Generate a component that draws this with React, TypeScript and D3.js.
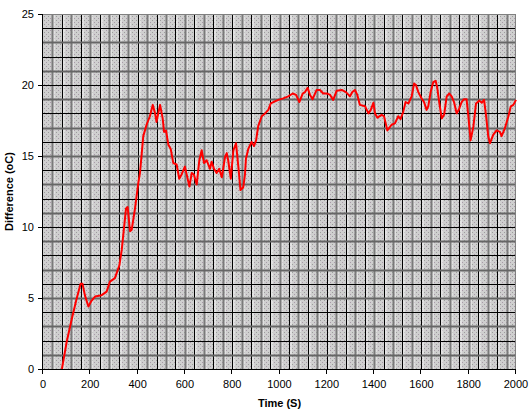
import { useMemo } from 'react';
import * as d3 from 'd3';

const time = [
    80, 100, 120, 140, 159, 167, 177, 192, 205, 220, 248, 269, 283, 304, 323, 333, 351, 358, 368, 375, 389, 403, 410,
    424, 438, 452, 464, 474, 480, 495, 506, 512, 520, 530, 540, 551, 565, 576, 586, 600, 619, 629, 638, 650, 661, 671,
    681, 692, 706, 713, 723, 734, 745, 756, 770, 777, 783, 794, 805, 816, 826, 835, 847, 854, 858, 868, 882, 892, 901,
    910, 925, 939, 953, 963, 974, 995, 1016, 1037, 1056, 1070, 1084, 1098, 1108, 1119, 1129, 1140, 1157, 1171, 1185,
    1202, 1214, 1227, 1242, 1263, 1281, 1298, 1308, 1319, 1329, 1340, 1362, 1376, 1386, 1397, 1404, 1414, 1432, 1442,
    1456, 1474, 1488, 1502, 1512, 1523, 1533, 1545, 1559, 1569, 1577, 1587, 1601, 1611, 1622, 1629, 1639, 1650, 1660,
    1667, 1676, 1686, 1696, 1707, 1718, 1728, 1738, 1749, 1759, 1770, 1780, 1791, 1798, 1808, 1820, 1831, 1845, 1855,
    1865, 1873, 1883, 1890, 1904, 1918, 1932, 1939, 1953, 1968, 1978, 1989, 2000,
];

const difference = [
    0, 1.9, 3.4, 4.8, 6.0, 6.0, 5.2, 4.4, 4.8, 5.1, 5.2, 5.45, 6.15, 6.4, 7.3, 8.4, 11.3, 11.4, 9.7, 9.8, 11.3, 13.1,
    13.8, 16.4, 17.2, 17.8, 18.6, 18.0, 17.4, 18.6, 17.65, 16.7, 16.8, 15.8, 15.5, 14.5, 14.4, 13.4, 13.7, 14.25, 12.85,
    13.8, 13.7, 13.0, 14.7, 15.4, 14.5, 14.7, 14.1, 14.6, 14.1, 13.8, 14.1, 13.5, 14.95, 15.2, 14.7, 13.4, 15.4, 15.9,
    14.25, 12.6, 12.8, 13.7, 14.8, 15.5, 16.0, 15.7, 16.1, 17.1, 17.8, 18.0, 18.25, 18.7, 18.8, 18.95, 19.06, 19.2, 19.4,
    19.3, 18.8, 19.4, 19.5, 19.8, 19.3, 19.0, 19.65, 19.65, 19.4, 19.4, 19.3, 18.95, 19.6, 19.65, 19.5, 19.2, 19.5,
    19.65, 19.3, 18.6, 18.5, 18.0, 18.25, 18.75, 18.0, 17.7, 17.9, 17.8, 16.8, 17.2, 17.3, 17.8, 17.6, 18.1, 18.8, 18.7,
    19.2, 20.1, 20.0, 19.5, 19.05, 18.8, 18.25, 18.5, 19.5, 20.2, 20.3, 19.8, 18.7, 17.65, 17.9, 19.2, 19.4, 19.2, 18.8,
    18.0, 18.3, 18.8, 19.0, 19.0, 17.9, 16.1, 17.1, 18.7, 18.9, 18.75, 18.95, 17.9, 16.35, 15.9, 16.5, 16.8, 16.7, 16.4,
    16.95, 17.8, 18.5, 18.6, 18.95,
];

const xTicks = [0, 200, 400, 600, 800, 1000, 1200, 1400, 1600, 1800, 2000];
const yTicks = [0, 5, 10, 15, 20, 25];

const WIDTH = 529;
const HEIGHT = 413;
const margin = { top: 14, right: 13, bottom: 44, left: 43 };
const FONT = '"Liberation Sans", Arial, sans-serif';

export default function App() {
    const x = useMemo(() => d3.scaleLinear().domain([0, 2000]).range([margin.left, WIDTH - margin.right]), []);
    const y = useMemo(() => d3.scaleLinear().domain([0, 25]).range([HEIGHT - margin.bottom, margin.top]), []);

    const linePath = useMemo(() => {
        const points = time.map((t, index) => [t, difference[index]] as [number, number]);
        return (
            d3
                .line<[number, number]>()
                .x((d) => x(d[0]))
                .y((d) => y(d[1]))(points) ?? ''
        );
    }, [x, y]);

    const verticalGrid = d3.range(40, 2000, 40);
    const horizontalGrid = d3.range(1, 25, 1);

    const [x0, x1] = x.range();
    const [y0, y1] = y.range();

    return (
        <div style={{ position: 'absolute', left: 0, top: 0 }}>
            <svg width={WIDTH} height={HEIGHT} style={{ display: 'block', background: '#ffffff' }}>
                <defs>
                    <pattern id="dots" width={4} height={4} patternUnits="userSpaceOnUse">
                        <rect width={4} height={4} fill="#cfcfcf" />
                        <rect x={0} y={0} width={1} height={1} fill="#9c9c9c" />
                        <rect x={2} y={2} width={1} height={1} fill="#a89aa8" />
                    </pattern>
                </defs>

                <rect x={x0} y={y1} width={x1 - x0} height={y0 - y1} fill="url(#dots)" />

                {/* vertical grid lines: alternating gray bands and black lines, with light edges */}
                {verticalGrid.map((t) => {
                    const px = Math.round(x(t)) + 0.5;
                    const dark = t % 80 === 0;
                    return (
                        <g key={`v${t}`}>
                            <line x1={px + 1.5} x2={px + 1.5} y1={y1} y2={y0} stroke="#f4f4f4" strokeWidth={1} />
                            <line
                                x1={px}
                                x2={px}
                                y1={y1}
                                y2={y0}
                                stroke={dark ? '#000000' : '#7a7a7a'}
                                strokeWidth={dark ? 1 : 2}
                            />
                        </g>
                    );
                })}

                {horizontalGrid.map((v) => {
                    const py = Math.round(y(v)) + 0.5;
                    const dark = v % 2 === 0;
                    return (
                        <line
                            key={`h${v}`}
                            x1={x0}
                            x2={x1}
                            y1={py}
                            y2={py}
                            stroke={dark ? '#000000' : '#666666'}
                            strokeWidth={dark ? 1 : 2}
                        />
                    );
                })}

                {/* plot border */}
                <line x1={x0} x2={x1} y1={y1 + 0.5} y2={y1 + 0.5} stroke="#808080" strokeWidth={1} />
                <line x1={x1 - 0.5} x2={x1 - 0.5} y1={y1} y2={y0} stroke="#808080" strokeWidth={1} />

                <path d={linePath} fill="none" stroke="#ff0000" strokeWidth={2} strokeLinejoin="round" />

                {/* axes */}
                <line x1={x0 - 0.5} x2={x0 - 0.5} y1={y1} y2={y0} stroke="#000" strokeWidth={1} />
                <line x1={x0} x2={x1} y1={y0 + 0.5} y2={y0 + 0.5} stroke="#000" strokeWidth={1} />

                {yTicks.map((v) => (
                    <g key={`yt${v}`}>
                        <line
                            x1={x0 - 5}
                            x2={x0}
                            y1={Math.round(y(v)) + 0.5}
                            y2={Math.round(y(v)) + 0.5}
                            stroke="#000"
                        />
                        <text
                            x={x0 - 9}
                            y={y(v) + 4}
                            textAnchor="end"
                            fontFamily={FONT}
                            fontSize={11}
                            fill="#000"
                        >
                            {v}
                        </text>
                    </g>
                ))}

                {xTicks.map((t) => (
                    <g key={`xt${t}`}>
                        <line
                            x1={Math.round(x(t)) - 0.5}
                            x2={Math.round(x(t)) - 0.5}
                            y1={y0}
                            y2={y0 + 5}
                            stroke="#000"
                        />
                        <text x={x(t)} y={y0 + 19} textAnchor="middle" fontFamily={FONT} fontSize={11} fill="#000">
                            {t}
                        </text>
                    </g>
                ))}

                <text
                    x={(x0 + x1) / 2}
                    y={HEIGHT - 6}
                    textAnchor="middle"
                    fontFamily={FONT}
                    fontSize={11}
                    fontWeight={700}
                    fill="#000"
                >
                    Time (S)
                </text>
                <text
                    transform={`translate(13, ${(y0 + y1) / 2}) rotate(-90)`}
                    textAnchor="middle"
                    fontFamily={FONT}
                    fontSize={11}
                    fontWeight={700}
                    fill="#000"
                >
                    Difference (oC)
                </text>
            </svg>
        </div>
    );
}
